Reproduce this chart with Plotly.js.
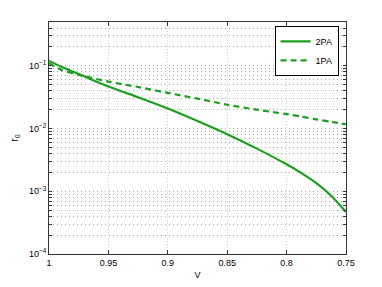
<!DOCTYPE html>
<html>
<head>
<meta charset="utf-8">
<script src="https://cdn.plot.ly/plotly-3.0.1.min.js"></script>
<style>html,body{margin:0;padding:0;background:#fff;}#chart{width:382px;height:287px;}</style>
</head>
<body>
<div id="chart"></div>
<script>
const V = [1.0, 0.99, 0.975, 0.95, 0.925, 0.9, 0.875, 0.85, 0.825, 0.8, 0.7875, 0.775, 0.7625, 0.75];
const r0_2PA = [0.120, 0.0977, 0.0741, 0.0468, 0.0316, 0.0209, 0.0132, 0.00813, 0.00479, 0.00269, 0.00195, 0.00135, 0.000851, 0.000468];
const r0_1PA = [0.110, 0.087, 0.072, 0.056, 0.046, 0.037, 0.030, 0.024, 0.020, 0.017, 0.0155, 0.014, 0.0128, 0.0117];
const xTicks = [1, 0.95, 0.9, 0.85, 0.8, 0.75];
const xTickText = ['1', '0.95', '0.9', '0.85', '0.8', '0.75'];
const decades = [-4, -3, -2, -1];
const decadeText = ['10<sup>\u22124</sup>', '10<sup>\u22123</sup>', '10<sup>\u22122</sup>', '10<sup>\u22121</sup>'];
const mantissas = [1, 2, 3, 4, 5, 6, 7, 8, 9];

const yTickVals = [], yTickText = [];
decades.forEach((d, i) => {
  mantissas.forEach(m => {
    const v = m * Math.pow(10, d);
    if (v <= 0.5 + 1e-12) {
      yTickVals.push(v);
      yTickText.push(m === 1 ? decadeText[i] : '');
    }
  });
});

const green = '#1e9e1e';
const traces = [
  {x: V, y: r0_2PA, name: '2PA', mode: 'lines', line: {color: green, width: 2.2, shape: 'spline', smoothing: 0.8}},
  {x: V, y: r0_1PA, name: '1PA', mode: 'lines', line: {color: green, width: 2.2, dash: '6px,4px', shape: 'spline', smoothing: 0.8}}
];

const layout = {
  width: 382, height: 287,
  margin: {l: 49, r: 36, t: 22, b: 33},
  paper_bgcolor: '#fff', plot_bgcolor: '#fff',
  font: {family: 'Liberation Sans, Arial, sans-serif', size: 9, color: '#000'},
  showlegend: true,
  legend: {x: 0.975, y: 0.983, xanchor: 'right', yanchor: 'top', bgcolor: '#fff',
           bordercolor: '#000', borderwidth: 1, font: {size: 9}, tracegroupgap: 0,
           itemwidth: 30},
  xaxis: {
    range: [1, 0.75], tickvals: xTicks, ticktext: xTickText,
    showline: true, linecolor: '#333', linewidth: 1, mirror: 'ticks',
    ticks: 'inside', ticklen: 4, tickcolor: '#333',
    showgrid: true, gridcolor: '#cfcfcf', griddash: '1px,2px', gridwidth: 1,
    zeroline: false,
    title: {text: 'V', font: {size: 9}, standoff: 4}
  },
  yaxis: {
    type: 'log', range: [-4, Math.log10(0.5)],
    tickvals: yTickVals, ticktext: yTickText,
    showline: true, linecolor: '#333', linewidth: 1, mirror: 'ticks',
    ticks: 'inside', ticklen: 3, tickcolor: '#333',
    showgrid: true, gridcolor: '#aaaaaa', griddash: '1px,3px', gridwidth: 1,
    zeroline: false,
    title: {text: 'r<sub>0</sub>', font: {size: 10}, standoff: 8}
  }
};

Plotly.newPlot('chart', traces, layout, {staticPlot: true, displayModeBar: false});
</script>
</body>
</html>
